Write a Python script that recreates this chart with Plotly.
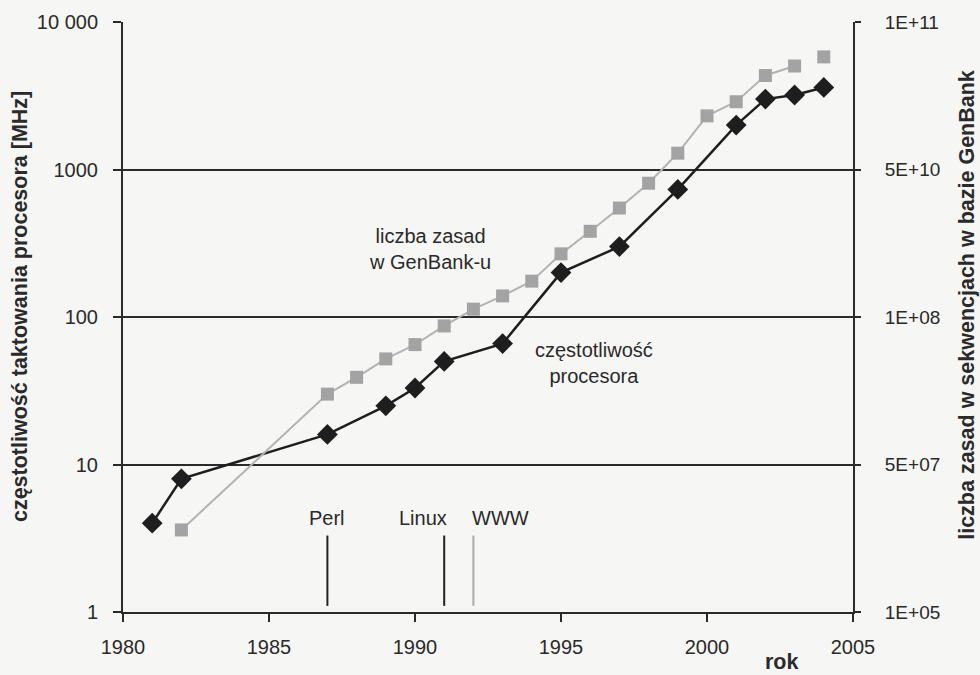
import plotly.graph_objects as go

# Clock frequency of processors [MHz]
cpu_years = [1981, 1982, 1987, 1989, 1990, 1991, 1993, 1995, 1997, 1999, 2001, 2002, 2003, 2004]
cpu_mhz = [4, 8, 16, 25, 33, 50, 66, 200, 300, 733, 2000, 3000, 3200, 3600]

# GenBank size, expressed on the right-axis scale
gb_years = [1982, 1987, 1988, 1989, 1990, 1991, 1992, 1993, 1994, 1995, 1996, 1997,
            1998, 1999, 2000, 2001, 2002, 2003, 2004]
gb_size = [3.6, 30, 39, 52, 65, 87, 113, 139, 175, 268, 381, 548,
           807, 1290, 2310, 2880, 4340, 5030, 5800]

left_ticks = [1, 10, 100, 1000, 10000]
left_labels = ["1", "10", "100", "1000", "10 000"]
right_labels = ["1E+05", "5E+07", "1E+08", "5E+10", "1E+11"]

# Milestones: name, year, colour
events = [("Perl", 1987, "#222222"), ("Linux", 1991, "#222222"), ("WWW", 1992, "#aaaaaa")]
event_low, event_high = 1.1, 3.3

FONT = "Liberation Sans, Arial, sans-serif"
INK = "#2a2a2a"
GRAY_LINE = "#b3b3b3"
GRAY_MARK = "#a3a3a3"

fig = go.Figure()

# Milestone vertical lines
for name, yr, col in events:
    fig.add_trace(go.Scatter(x=[yr, yr], y=[event_low, event_high], mode="lines",
                             line=dict(color=col, width=2), showlegend=False,
                             hoverinfo="skip"))

# GenBank series (line through 2003, last point unconnected)
fig.add_trace(go.Scatter(x=gb_years[:-1], y=gb_size[:-1], mode="lines+markers",
                         line=dict(color=GRAY_LINE, width=2),
                         marker=dict(symbol="square", size=13, color=GRAY_MARK),
                         yaxis="y2", showlegend=False))
fig.add_trace(go.Scatter(x=gb_years[-1:], y=gb_size[-1:], mode="markers",
                         marker=dict(symbol="square", size=13, color=GRAY_MARK),
                         yaxis="y2", showlegend=False))

# CPU clock series
fig.add_trace(go.Scatter(x=cpu_years, y=cpu_mhz, mode="lines+markers",
                         line=dict(color="#1e1e1e", width=2.5),
                         marker=dict(symbol="diamond", size=16, color="#1e1e1e"),
                         showlegend=False))

LBL = dict(size=20, color=INK, family=FONT)
TITLE = dict(size=21.5, color=INK, family=FONT)
annotations = [
    dict(x=1990.5, y=2.46, yref="y", text="liczba zasad<br>w GenBank-u",
         font=LBL, showarrow=False),
    dict(x=1996.13, y=1.69, yref="y", text="częstotliwość<br>procesora",
         font=LBL, showarrow=False),
    dict(x=1987, y=0.55, text="Perl", xanchor="center", yanchor="bottom",
         font=LBL, showarrow=False),
    dict(x=1991.15, y=0.55, text="Linux", xanchor="right", yanchor="bottom",
         font=LBL, showarrow=False),
    dict(x=1991.9, y=0.55, text="WWW", xanchor="left", yanchor="bottom",
         font=LBL, showarrow=False),
    dict(xref="paper", yref="paper", x=-0.141, y=0.517, textangle=-90,
         xanchor="center", yanchor="middle",
         text="<b>częstotliwość taktowania procesora [MHz]</b>",
         font=TITLE, showarrow=False),
    dict(xref="paper", yref="paper", x=1.157, y=0.52, textangle=-90,
         xanchor="center", yanchor="middle",
         text="<b>liczba zasad w sekwencjach w bazie GenBank</b>",
         font=TITLE, showarrow=False),
    dict(xref="paper", yref="paper", x=0.903, y=-0.084, xanchor="center",
         yanchor="middle", text="<b>rok</b>", font=TITLE, showarrow=False),
]

fig.update_layout(
    width=980, height=675,
    margin=dict(l=123, r=127, t=22, b=63),
    paper_bgcolor="#f6f6f5", plot_bgcolor="#f6f6f5",
    font=dict(family=FONT, size=19, color=INK),
    xaxis=dict(range=[1980, 2005], tickvals=[1980, 1985, 1990, 1995, 2000, 2005],
               showgrid=False, zeroline=False, showline=True, linecolor=INK,
               linewidth=2, ticks="outside", ticklen=8, tickcolor=INK, tickwidth=2,
               ticklabelstandoff=8, tickfont=dict(size=20)),
    yaxis=dict(type="log", range=[0, 4], tickvals=left_ticks, ticktext=left_labels,
               showgrid=True, gridcolor=INK, gridwidth=2, zeroline=False,
               showline=True, linecolor=INK, linewidth=2, ticks="outside",
               ticklen=8, tickcolor=INK, tickwidth=2, ticklabelstandoff=11,
               tickfont=dict(size=20)),
    yaxis2=dict(type="log", range=[0, 4], overlaying="y", side="right",
                tickvals=left_ticks, ticktext=right_labels, showgrid=False,
                zeroline=False, showline=True, linecolor=INK, linewidth=2,
                ticks="outside", ticklen=6, tickcolor=INK, tickwidth=1.5,
                ticklabelstandoff=20, tickfont=dict(size=19)),
    annotations=annotations,
)

fig.write_html("out.html")
